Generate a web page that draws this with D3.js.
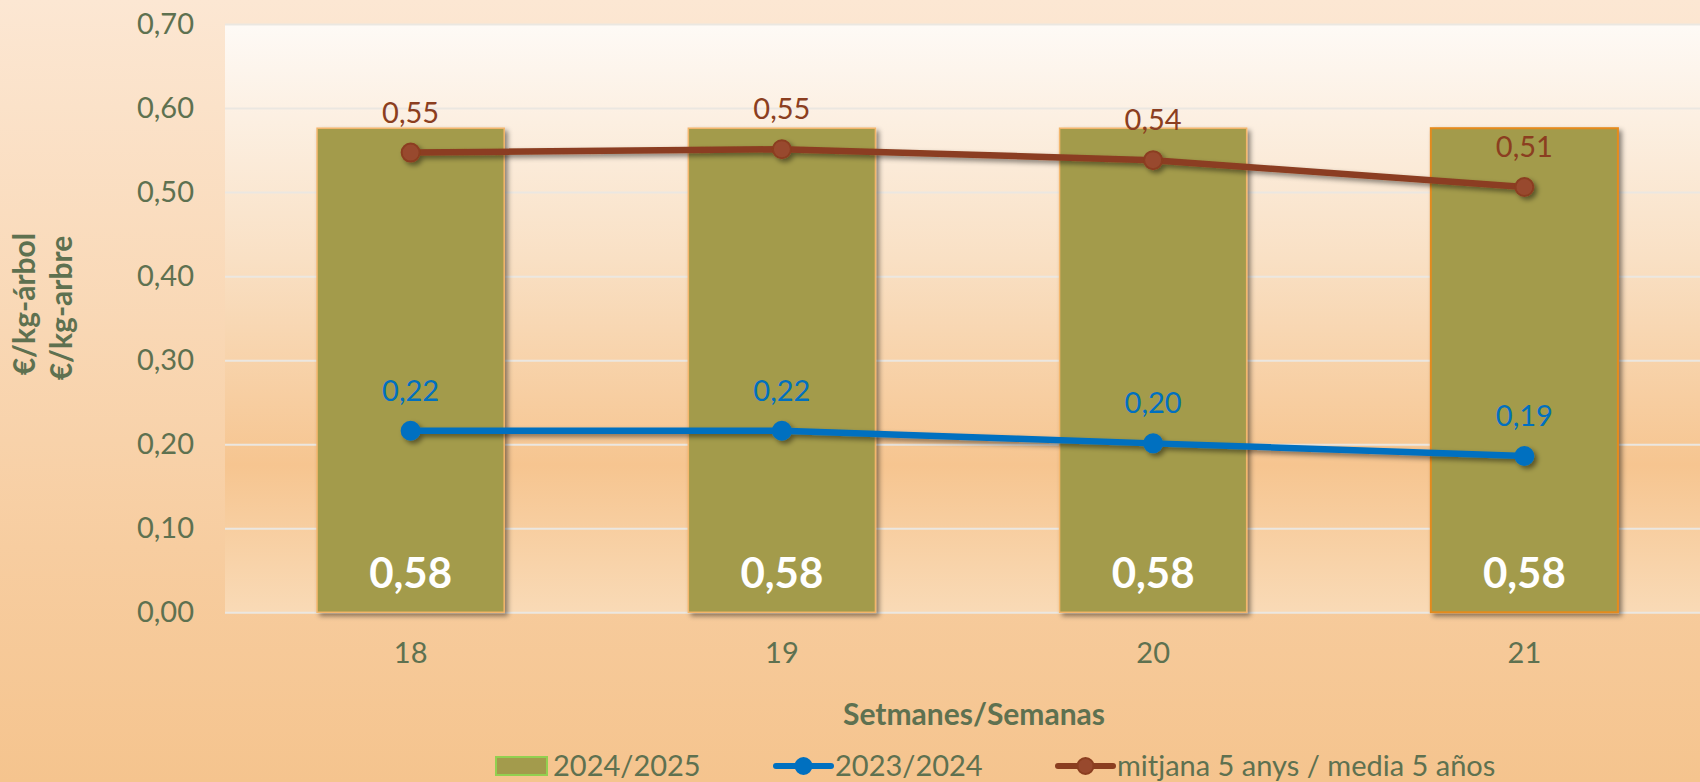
<!DOCTYPE html>
<html>
<head>
<meta charset="utf-8">
<script src="https://cdn.jsdelivr.net/npm/d3@7"></script>
<style>
  body { margin: 0; padding: 0; overflow: hidden; }
  svg { display: block; font-family: Lato, "Open Sans", sans-serif; }
</style>
</head>
<body>
<div id="chart"></div>
<script>
// Data
var weeks = ["18", "19", "20", "21"];
var season2425 = [0.576, 0.576, 0.576, 0.576];
var season2324 = [0.216, 0.216, 0.201, 0.186];
var average5 = [0.547, 0.551, 0.538, 0.506];
var yTickValues = [0, 0.1, 0.2, 0.3, 0.4, 0.5, 0.6, 0.7];
var legendLabels = ["2024/2025", "2023/2024", "mitjana 5 anys / media 5 años"];

var width = 1700;
var height = 782;

// plot area
var plotLeft = 225, plotRight = 1710, plotTop = 24, plotBottom = 612.3;

var textColor = "#5e7150";
var barColor = "#a39b4c";
var blue = "#0070c0";
var brown = "#8b3e20";
var fontSize = "29px";

var locale = d3.formatLocale({ decimal: ",", thousands: ".", grouping: [3], currency: ["", "€"] });
var fmt = locale.format(".2f");

var svg = d3.select("#chart").append("svg")
  .attr("width", width)
  .attr("height", height);

var defs = svg.append("defs");

var bgGrad = defs.append("linearGradient").attr("id", "bgGrad")
  .attr("x1", 0).attr("y1", 0).attr("x2", 0).attr("y2", 1);
bgGrad.append("stop").attr("offset", "0%").attr("stop-color", "#fce7d3");
bgGrad.append("stop").attr("offset", "70%").attr("stop-color", "#f7cda0");
bgGrad.append("stop").attr("offset", "100%").attr("stop-color", "#f5c48e");

var plotGrad = defs.append("linearGradient").attr("id", "plotGrad")
  .attr("x1", 0).attr("y1", 0).attr("x2", 0).attr("y2", 1);
plotGrad.append("stop").attr("offset", "0%").attr("stop-color", "#fefaf6");
plotGrad.append("stop").attr("offset", "40%").attr("stop-color", "#f9e0c4");
plotGrad.append("stop").attr("offset", "75%").attr("stop-color", "#f6c590");
plotGrad.append("stop").attr("offset", "100%").attr("stop-color", "#f9dab6");

var shadow = defs.append("filter").attr("id", "shadow")
  .attr("x", "-20%").attr("y", "-20%").attr("width", "140%").attr("height", "140%");
shadow.append("feDropShadow")
  .attr("dx", 3).attr("dy", 3).attr("stdDeviation", 2.5)
  .attr("flood-color", "#000").attr("flood-opacity", 0.45);

svg.append("rect")
  .attr("width", width).attr("height", height)
  .attr("fill", "url(#bgGrad)");

svg.append("rect")
  .attr("x", plotLeft).attr("y", plotTop)
  .attr("width", plotRight - plotLeft).attr("height", plotBottom - plotTop)
  .attr("fill", "url(#plotGrad)");

var x = d3.scaleBand()
  .domain(weeks)
  .range([plotLeft, plotRight])
  .paddingInner(0.496)
  .paddingOuter(0.248);

var y = d3.scaleLinear()
  .domain([0, 0.7])
  .range([plotBottom, plotTop]);

// gridlines
svg.append("g")
  .attr("class", "grid")
  .attr("transform", "translate(" + plotLeft + ",0)")
  .call(d3.axisLeft(y).tickValues(yTickValues).tickSize(-(plotRight - plotLeft)).tickFormat(""))
  .call(function(g) { g.select(".domain").remove(); })
  .selectAll("line")
  .attr("stroke", "#ebe7e1")
  .attr("stroke-width", 2);

// y axis labels
var yAxis = d3.axisLeft(y).tickValues(yTickValues).tickSize(0).tickPadding(31)
  .tickFormat(function(d) { return fmt(d); });
svg.append("g")
  .attr("transform", "translate(" + plotLeft + ",0)")
  .call(yAxis)
  .call(function(g) { g.select(".domain").remove(); })
  .selectAll("text")
  .attr("fill", textColor)
  .style("font-size", fontSize)
  .style("font-family", "Lato, sans-serif");

// x axis labels
var xAxis = d3.axisBottom(x).tickSize(0).tickPadding(30);
svg.append("g")
  .attr("transform", "translate(0," + plotBottom + ")")
  .call(xAxis)
  .call(function(g) { g.select(".domain").remove(); })
  .selectAll("text")
  .attr("fill", textColor)
  .style("font-size", fontSize)
  .style("font-family", "Lato, sans-serif");

// bars
svg.selectAll(".bar")
  .data(season2425)
  .enter()
  .append("rect")
  .attr("class", "bar")
  .attr("x", function(d, i) { return x(weeks[i]); })
  .attr("y", function(d) { return y(d); })
  .attr("width", x.bandwidth())
  .attr("height", function(d) { return y(0) - y(d); })
  .attr("fill", barColor)
  .attr("stroke", function(d, i) { return i === 3 ? "#e58a1e" : "#f3b66c"; })
  .attr("stroke-width", function(d, i) { return i === 3 ? 2 : 1.5; })
  .attr("filter", "url(#shadow)");

svg.selectAll(".barLabel")
  .data(season2425)
  .enter()
  .append("text")
  .attr("class", "barLabel")
  .attr("x", function(d, i) { return x(weeks[i]) + x.bandwidth() / 2; })
  .attr("y", 588)
  .attr("text-anchor", "middle")
  .attr("fill", "#ffffff")
  .style("font-size", "42px")
  .style("font-weight", "bold")
  .text(function(d) { return fmt(d); });

// lines
var line = d3.line()
  .x(function(d, i) { return x(weeks[i]) + x.bandwidth() / 2; })
  .y(function(d) { return y(d); });

function drawSeries(values, color, markerFill, cls) {
  var g = svg.append("g").attr("filter", "url(#shadow)");
  g.append("path")
    .datum(values)
    .attr("d", line)
    .attr("fill", "none")
    .attr("stroke", color)
    .attr("stroke-width", 6.5)
    .attr("stroke-linejoin", "round");
  g.selectAll("circle." + cls)
    .data(values)
    .enter()
    .append("circle")
    .attr("class", cls)
    .attr("cx", function(d, i) { return x(weeks[i]) + x.bandwidth() / 2; })
    .attr("cy", function(d) { return y(d); })
    .attr("r", 9)
    .attr("fill", markerFill)
    .attr("stroke", color)
    .attr("stroke-width", 2);

  svg.selectAll("text." + cls)
    .data(values)
    .enter()
    .append("text")
    .attr("class", cls)
    .attr("x", function(d, i) { return x(weeks[i]) + x.bandwidth() / 2; })
    .attr("y", function(d) { return y(d) - 30; })
    .attr("text-anchor", "middle")
    .attr("fill", color)
    .style("font-size", fontSize)
    .text(function(d) { return fmt(d); });
}

drawSeries(season2324, blue, blue, "blueS");
drawSeries(average5, brown, "#98492d", "brownS");

// axis titles
svg.append("text")
  .attr("x", 974)
  .attr("y", 725)
  .attr("text-anchor", "middle")
  .attr("fill", textColor)
  .style("font-size", "30px")
  .style("font-weight", "bold")
  .text("Setmanes/Semanas");

svg.append("text")
  .attr("transform", "translate(35,304) rotate(-90)")
  .attr("text-anchor", "middle")
  .attr("fill", textColor)
  .style("font-size", "30px")
  .style("font-weight", "bold")
  .text("€/kg-árbol");

svg.append("text")
  .attr("transform", "translate(72,308) rotate(-90)")
  .attr("text-anchor", "middle")
  .attr("fill", textColor)
  .style("font-size", "30px")
  .style("font-weight", "bold")
  .text("€/kg-arbre");

// legend
var legend = svg.append("g");
var legY = 766;

legend.append("rect")
  .attr("x", 496).attr("y", legY - 9)
  .attr("width", 51).attr("height", 18)
  .attr("fill", barColor)
  .attr("stroke", "#92d050")
  .attr("stroke-width", 2);
legend.append("text")
  .attr("x", 553).attr("y", legY + 10)
  .attr("fill", textColor)
  .style("font-size", fontSize)
  .text(legendLabels[0]);

function legendLine(x0, x1, color, markerFill, label) {
  legend.append("line")
    .attr("x1", x0).attr("x2", x1)
    .attr("y1", legY).attr("y2", legY)
    .attr("stroke", color)
    .attr("stroke-width", 6)
    .attr("stroke-linecap", "round");
  legend.append("circle")
    .attr("cx", (x0 + x1) / 2).attr("cy", legY)
    .attr("r", 8)
    .attr("fill", markerFill)
    .attr("stroke", color)
    .attr("stroke-width", 2);
  legend.append("text")
    .attr("x", x1 + 4).attr("y", legY + 10)
    .attr("fill", textColor)
    .style("font-size", fontSize)
    .text(label);
}

legendLine(776, 831, blue, blue, legendLabels[1]);
legendLine(1058, 1113, brown, "#98492d", legendLabels[2]);
</script>
</body>
</html>
